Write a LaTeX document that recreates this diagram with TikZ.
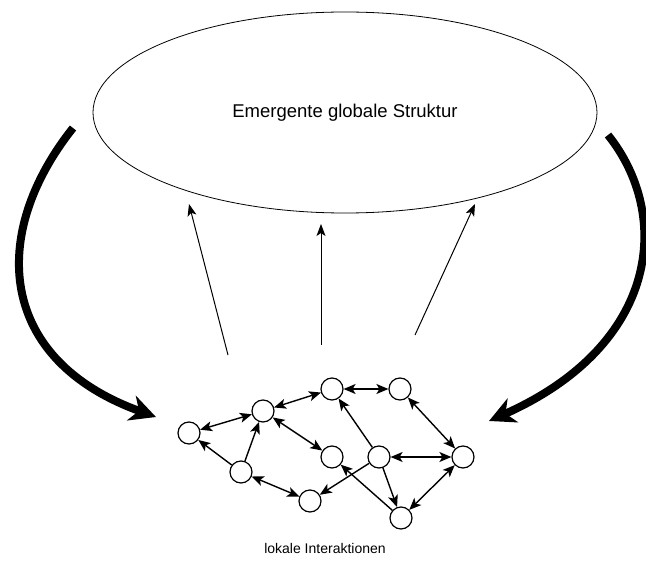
\documentclass[tikz,border=0pt]{standalone}
\usepackage{fontspec}
\setmainfont{Liberation Sans}
\usetikzlibrary{shapes.geometric,arrows.meta}
\begin{document}
\begin{tikzpicture}[x=1pt,y=-1pt,
  agent/.style={circle,draw,line width=1.2pt,fill=white,minimum size=22pt,inner sep=0pt},
  link/.style={line width=1.4pt,-{Stealth[length=12pt,width=10pt,inset=3pt]}},
  blink/.style={line width=1.4pt,{Stealth[length=12pt,width=10pt,inset=3pt]}-{Stealth[length=12pt,width=10pt,inset=3pt]}},
  upar/.style={line width=1pt,-{Stealth[length=12pt,width=9pt,inset=3pt]}},
  feedback/.style={line width=8pt,-{Stealth[length=26pt,width=26pt,inset=8pt]}}]
\useasboundingbox (0,0) rectangle (646,572);
\node[ellipse,draw,line width=0.8pt,minimum width=504pt,minimum height=201pt,inner sep=0pt] (glob) at (345,112.5)
  {\fontsize{18.5}{22}\selectfont Emergente globale Struktur};
\node (lokal) at (325,548) {\fontsize{14}{16}\selectfont lokale Interaktionen};
% agents
\node[agent] (A) at (189,433) {};
\node[agent] (B) at (263,411) {};
\node[agent] (C) at (241,472) {};
\node[agent] (D) at (310,501) {};
\node[agent] (E) at (332,389) {};
\node[agent] (F) at (400,389) {};
\node[agent] (G) at (332,457) {};
\node[agent] (H) at (379,457) {};
\node[agent] (I) at (463,457) {};
\node[agent] (J) at (401,518) {};
% interactions
\draw[blink] (A) -- (B);
\draw[link] (C) -- (A);
\draw[link] (C) -- (B);
\draw[blink] (C) -- (D);
\draw[blink] (B) -- (E);
\draw[blink] (B) -- (G);
\draw[blink] (E) -- (F);
\draw[link] (H) -- (E);
\draw[blink] (F) -- (I);
\draw[blink] (H) -- (I);
\draw[link] (H) -- (J);
\draw[blink] (I) -- (J);
\draw[link] (J) -- (G);
\draw[link] (H) -- (D);
% upward emergence arrows
\coordinate (u1s) at (228,355); \coordinate (u1e) at (189,204);
\coordinate (u2s) at (321,345); \coordinate (u2e) at (321,224);
\coordinate (u3s) at (415,335); \coordinate (u3e) at (475,204);
\draw[upar] (u1s) -- (u1e);
\draw[upar] (u2s) -- (u2e);
\draw[upar] (u3s) -- (u3e);
% feedback arrows
\coordinate (fl1) at (73,128); \coordinate (fl2) at (156,417);
\coordinate (fr1) at (608,135); \coordinate (fr2) at (489,421);
\draw[feedback] (fl1) .. controls (-12,235) and (-2,360) .. (fl2);
\draw[feedback] (fr1) .. controls (672,215) and (660,345) .. (fr2);
\end{tikzpicture}
\end{document}
